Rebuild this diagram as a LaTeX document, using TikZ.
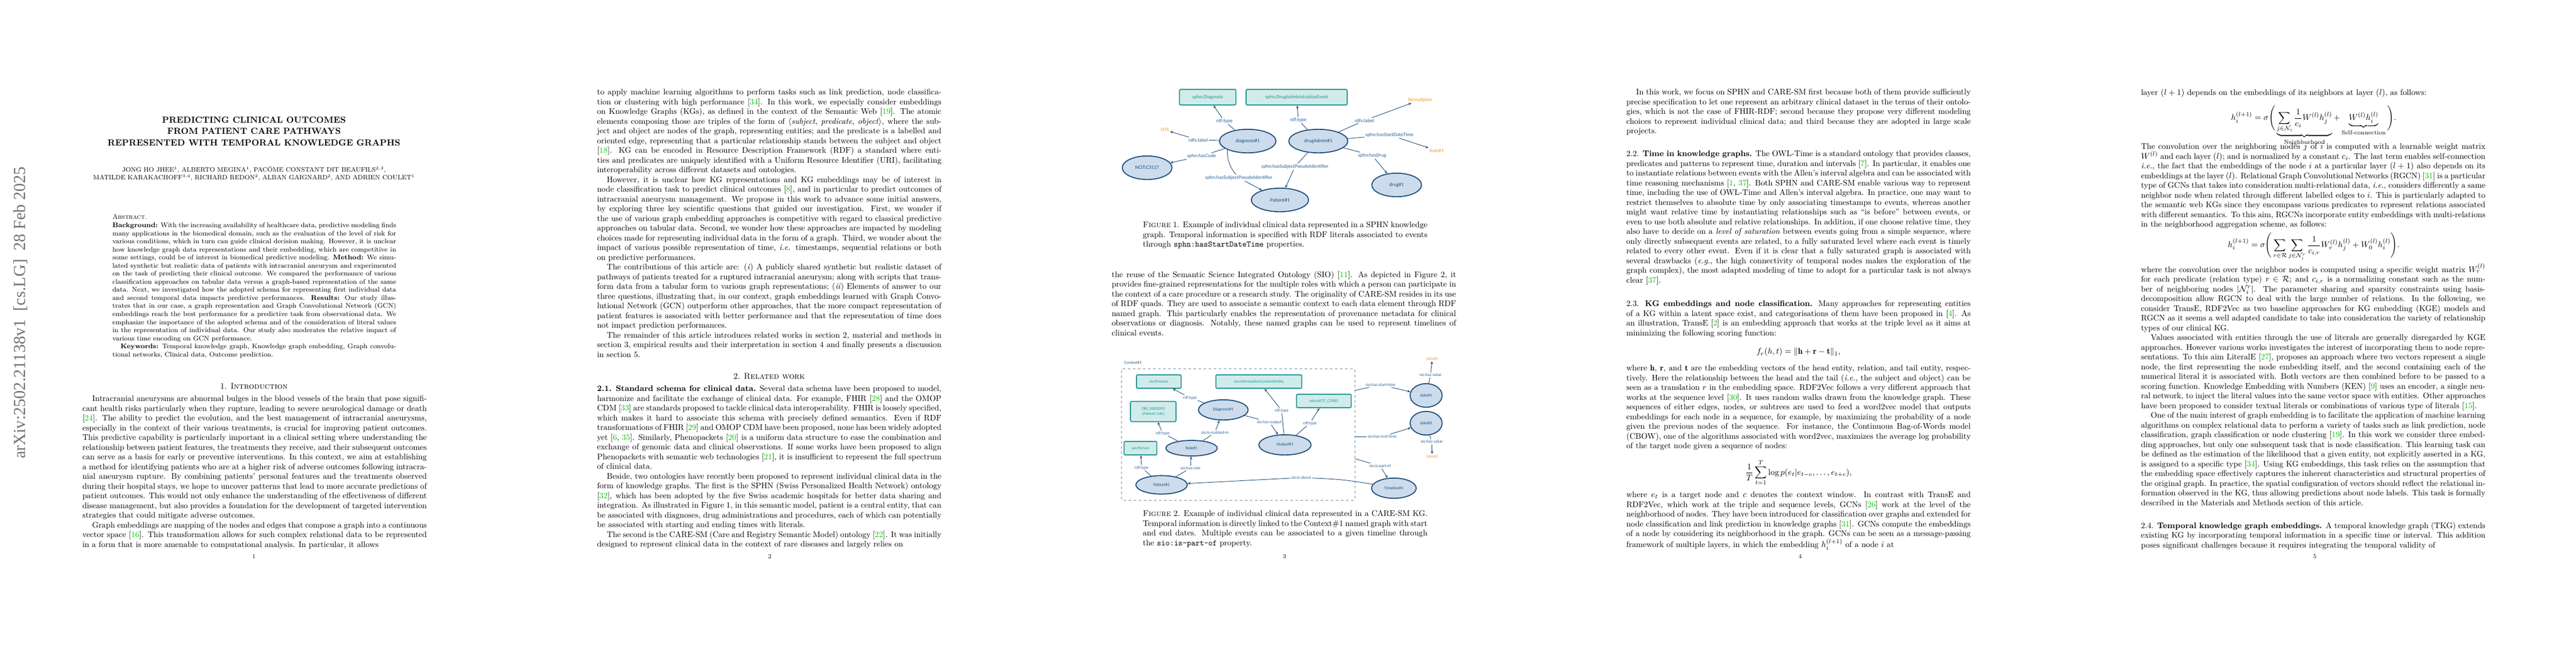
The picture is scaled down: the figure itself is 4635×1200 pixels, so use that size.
\documentclass[tikz,border=0pt]{standalone}
\usepackage{amsmath,amssymb}
\usepackage{fontspec}
\newfontfamily\figfont{Carlito}
\newfontfamily\stampfont{Liberation Serif}
\usetikzlibrary{arrows.meta,shapes.geometric}
\definecolor{edgeblue}{RGB}{31,78,121}
\definecolor{labblue}{RGB}{46,100,160}
\definecolor{ellfill}{RGB}{204,220,236}
\definecolor{boxfill}{RGB}{208,236,234}
\definecolor{boxline}{RGB}{40,150,150}
\definecolor{litorange}{RGB}{240,160,40}
\definecolor{citegreen}{RGB}{0,200,0}
\newcommand\cit[1]{[\textcolor{citegreen}{#1}]}
\newcommand\pind{\par\hspace*{1.2em}}
\begin{document}
\begin{tikzpicture}[x=0.66pt,y=-0.66pt,
  body/.style={anchor=north west, inner sep=0, text width=409pt, align=justify, font=\fontsize{9.7}{11.55}\selectfont},
  capt/.style={anchor=north west, inner sep=0, text width=338pt, align=justify, font=\fontsize{9.7}{11.55}\selectfont},
  pnum/.style={font=\fontsize{7}{8}\selectfont},
  ent/.style={ellipse, draw=edgeblue, line width=1.2pt, fill=ellfill, text=edgeblue, font=\figfont\fontsize{6}{7}\selectfont, inner sep=0},
  cls/.style={rectangle, rounded corners=1.5pt, draw=boxline, line width=1.2pt, fill=boxfill, text=boxline, font=\figfont\fontsize{6}{7}\selectfont, inner sep=1pt, align=center},
  lit/.style={text=litorange, font=\figfont\fontsize{6}{7}\selectfont, inner sep=1pt},
  elab/.style={text=labblue, font=\figfont\fontsize{6}{7}\selectfont, inner sep=1pt},
  small/.style={font=\figfont\fontsize{5}{6}\selectfont},
  kedge/.style={draw=edgeblue, line width=0.6pt},
  karr/.style={kedge, -{Stealth[length=3.5pt,width=3pt]}}]
\useasboundingbox (0,0) rectangle (4635,1200);
\fill[white] (0,0) rectangle (4635,1200);

% stamp
\node[rotate=90, text=black!55, font=\stampfont\fontsize{20}{22}\selectfont] (stamp) at (37,563) {arXiv:2502.21138v1\ \ [cs.LG]\ \ 28 Feb 2025};

% ---------- page 1
\node[font=\bfseries\fontsize{10.5}{13.4}\selectfont, align=center, anchor=north] (title) at (457,205)
  {PREDICTING CLINICAL OUTCOMES\\FROM PATIENT CARE PATHWAYS\\REPRESENTED WITH TEMPORAL KNOWLEDGE GRAPHS};
\node[font=\fontsize{7.6}{9.4}\selectfont, align=center, anchor=north] (authors) at (457,294)
  {JONG HO JHEE$^1$, ALBERTO MEGINA$^1$, PACÔME CONSTANT DIT BEAUFILS$^{2,3}$,\\
   MATILDE KARAKACHOFF$^{3,4}$, RICHARD REDON$^2$, ALBAN GAIGNARD$^2$, AND ADRIEN COULET$^1$};
\node[anchor=north west, inner sep=0, text width=337pt, align=justify, font=\fontsize{8}{9.6}\selectfont] (abstract) at (202,386)
  {\textsc{Abstract.}\par
  \textbf{Background:} With the increasing availability of healthcare data, predictive modeling finds many applications in the biomedical domain, such as the evaluation of the level of risk for various conditions, which in turn can guide clinical decision making. However, it is unclear how knowledge graph data representations and their embedding, which are competitive in some settings, could be of interest in biomedical predictive modeling. \textbf{Method:} We simulated synthetic but realistic data of patients with intracranial aneurysm and experimented on the task of predicting their clinical outcome. We compared the performance of various classification approaches on tabular data versus a graph-based representation of the same data. Next, we investigated how the adopted schema for representing first individual data and second temporal data impacts predictive performances. \textbf{Results:} Our study illustrates that in our case, a graph representation and Graph Convolutional Network (GCN) embeddings reach the best performance for a predictive task from observational data. We emphasize the importance of the adopted schema and of the consideration of literal values in the representation of individual data. Our study also moderates the relative impact of various time encoding on GCN performance.
  \pind\textbf{Keywords:} Temporal knowledge graph, Knowledge graph embedding, Graph convolutional networks, Clinical data, Outcome prediction.};
\node[font=\fontsize{10}{12}\selectfont] (intro) at (457,695) {1. \textsc{Introduction}};
\node[body] (p1a) at (148,712)
  {\hspace*{1.2em}Intracranial aneurysms are abnormal bulges in the blood vessels of the brain that pose significant health risks particularly when they rupture, leading to severe neurological damage or death \cit{24}. The ability to predict the evolution, and the best management of intracranial aneurysms, especially in the context of their various treatments, is crucial for improving patient outcomes. This predictive capability is particularly important in a clinical setting where understanding the relationship between patient features, the treatments they receive, and their subsequent outcomes can serve as a basis for early or preventive interventions. In this context, we aim at establishing a method for identifying patients who are at a higher risk of adverse outcomes following intracranial aneurysm rupture. By combining patients' personal features and the treatments observed during their hospital stays, we hope to uncover patterns that lead to more accurate predictions of patient outcomes. This would not only enhance the understanding of the effectiveness of different disease management, but also provides a foundation for the development of targeted intervention strategies that could mitigate adverse outcomes.
  \pind Graph embeddings are mapping of the nodes and edges that compose a graph into a continuous vector space \cit{16}. This transformation allows for such complex relational data to be represented in a form that is more amenable to computational analysis. In particular, it allows};
\node[pnum] (n1) at (457,1002) {1};

% ---------- page 2
\node[body] (p2a) at (1074,160)
  {to apply machine learning algorithms to perform tasks such as link prediction, node classification or clustering with high performance \cit{34}. In this work, we especially consider embeddings on Knowledge Graphs (KGs), as defined in the context of the Semantic Web \cit{19}. The atomic elements composing those are triples of the form of $\langle$\textit{subject}, \textit{predicate}, \textit{object}$\rangle$, where the subject and object are nodes of the graph, representing entities; and the predicate is a labelled and oriented edge, representing that a particular relationship stands between the subject and object \cit{18}. KG can be encoded in Resource Description Framework (RDF) a standard where entities and predicates are uniquely identified with a Uniform Resource Identifier (URI), facilitating interoperability across different datasets and ontologies.
  \pind However, it is unclear how KG representations and KG embeddings may be of interest in node classification task to predict clinical outcomes \cit{8}, and in particular to predict outcomes of intracranial aneurysm management. We propose in this work to advance some initial answers, by exploring three key scientific questions that guided our investigation. First, we wonder if the use of various graph embedding approaches is competitive with regard to classical predictive approaches on tabular data. Second, we wonder how these approaches are impacted by modeling choices made for representing individual data in the form of a graph. Third, we wonder about the impact of various possible representation of time, \textit{i.e.} timestamps, sequential relations or both on predictive performances.
  \pind The contributions of this article are: (\textit{i}) A publicly shared synthetic but realistic dataset of pathways of patients treated for a ruptured intracranial aneurysm; along with scripts that transform data from a tabular form to various graph representations; (\textit{ii}) Elements of answer to our three questions, illustrating that, in our context, graph embeddings learned with Graph Convolutional Network (GCN) outperform other approaches, that the more compact representation of patient features is associated with better performance and that the representation of time does not impact prediction performances.
  \pind The remainder of this article introduces related works in section 2, material and methods in section 3, empirical results and their interpretation in section 4 and finally presents a discussion in section 5.};
\node[font=\fontsize{10}{12}\selectfont] (related) at (1384,677) {2. \textsc{Related work}};
\node[body] (p2b) at (1074,694)
  {\textbf{2.1. Standard schema for clinical data.} Several data schema have been proposed to model, harmonize and facilitate the exchange of clinical data. For example, FHIR \cit{28} and the OMOP CDM \cit{33} are standards proposed to tackle clinical data interoperability. FHIR is loosely specified, which makes it hard to associate this schema with precisely defined semantics. Even if RDF transformations of FHIR \cit{29} and OMOP CDM have been proposed, none has been widely adopted yet [\textcolor{citegreen}{6}, \textcolor{citegreen}{35}]. Similarly, Phenopackets \cit{20} is a uniform data structure to ease the combination and exchange of genomic data and clinical observations. If some works have been proposed to align Phenopackets with semantic web technologies \cit{21}, it is insufficient to represent the full spectrum of clinical data.
  \pind Beside, two ontologies have recently been proposed to represent individual clinical data in the form of knowledge graphs. The first is the SPHN (Swiss Personalized Health Network) ontology \cit{32}, which has been adopted by the five Swiss academic hospitals for better data sharing and integration. As illustrated in Figure 1, in this semantic model, patient is a central entity, that can be associated with diagnoses, drug administrations and procedures, each of which can potentially be associated with starting and ending times with literals.
  \pind The second is the CARE-SM (Care and Registry Semantic Model) ontology \cit{22}. It was initially designed to represent clinical data in the context of rare diseases and largely relies on};
\node[pnum] (n2) at (1385,1002) {2};

% ---------- page 3, figure 1 (SPHN)
\node[cls, minimum width=67pt, minimum height=18.5pt] (diagbox) at (2173,175) {sphn:Diagnosis};
\node[cls, minimum width=120pt, minimum height=18.5pt] (drugbox) at (2333,175) {sphn:DrugAdministrationEvent};
\node[ent, minimum width=67pt, minimum height=28pt] (diag) at (2245,254) {diagnosis\#1};
\node[ent, minimum width=59pt, minimum height=28pt] (ncit) at (2064,302) {NCIT:C3117};
\node[ent, minimum width=68pt, minimum height=28pt] (patient) at (2303,360) {Patient\#1};
\node[ent, minimum width=70pt, minimum height=28pt] (drugadm) at (2372,254) {drugAdmin\#1};
\node[ent, minimum width=59pt, minimum height=28pt] (drug) at (2513,333) {drug\#1};
\node[lit] (hta) at (2096,234) {HTA};
\node[lit] (nimo) at (2555,180) {Nimodipine};
\node[lit] (sdate) at (2585,271) {date\#1};
\node[elab] (t1) at (2203,218) {rdf:type};
\node[elab] (l1) at (2156,252) {rdfs:label};
\node[elab] (c1) at (2162,281) {sphn:hasCode};
\node[elab] (s1) at (2229,320) {sphn:hasSubjectPseudoIdentifier};
\node[elab] (t2) at (2336,216) {rdf:type};
\node[elab] (l2) at (2455,217) {rdfs:label};
\node[elab] (d2) at (2500,243) {sphn:hasStartDateTime};
\node[elab] (g2) at (2469,280) {sphn:hasDrug};
\node[elab] (s2) at (2330,300) {sphn:hasSubjectPseudoIdentifier};
\draw[kedge] (diag) -- (t1); \draw[karr] (t1) -- (diagbox);
\draw[kedge] (diag) -- (l1); \draw[karr] (l1) -- (hta);
\draw[kedge] (diag) -- (c1); \draw[karr] (c1) -- (ncit);
\draw[kedge] (diag.south west) to[bend right=20] (s1); \draw[karr] (s1) -- (patient);
\draw[kedge] (drugadm) -- (t2); \draw[karr] (t2) -- (drugbox);
\draw[kedge] (drugadm) -- (l2); \draw[karr] (l2) -- (nimo);
\draw[kedge] (drugadm) -- (d2); \draw[karr] (d2) -- (sdate);
\draw[kedge] (drugadm) -- (g2); \draw[karr] (g2) -- (drug);
\draw[kedge] (drugadm) -- (s2); \draw[karr] (s2) -- (patient);
\node[capt] (cap1) at (2056,399)
  {\textsc{Figure} 1. Example of individual clinical data represented in a SPHN knowledge graph. Temporal information is specified with RDF literals associated to events through \texttt{sphn:hasStartDateTime} properties.};

\node[body] (p3a) at (2000,488)
  {the reuse of the Semantic Science Integrated Ontology (SIO) \cit{11}. As depicted in Figure 2, it provides fine-grained representations for the multiple roles with which a person can participate in the context of a care procedure or a research study. The originality of CARE-SM resides in its use of RDF quads. They are used to associate a semantic context to each data element through RDF named graph. This particularly enables the representation of provenance metadata for clinical observations or diagnosis. Notably, these named graphs can be used to represent timelines of clinical events.};

% ---------- page 3, figure 2 (CARE-SM)
\node[elab, small, anchor=west] (ctx) at (2021,653) {Context\#1};
\draw[edgeblue, dashed, line width=0.6pt, rounded corners=2pt] (2018,664) rectangle (2438,901);
\coordinate (cstart) at (2438,703);
\coordinate (cend) at (2438,786);
\coordinate (cpart) at (2438,826);
\node[cls, small, minimum width=53pt, minimum height=16pt] (proc) at (2085,687) {sio:Process};
\node[cls, small, minimum width=102pt, minimum height=16pt] (ice) at (2265,687) {sio:InformationContentEntity};
\node[cls, small, minimum width=54pt, minimum height=24pt] (obi) at (2075,741) {OBI\_0000093\\(Patient role)};
\node[cls, small, minimum width=39pt, minimum height=16pt] (person) at (2052,807) {sio:Person};
\node[cls, small, minimum width=65pt, minimum height=16pt] (ncitc) at (2382,722) {obo:NCIT\_C2985};
\node[ent, small, minimum width=59pt, minimum height=24pt] (diag2) at (2201,738) {Diagnosis\#1};
\node[ent, small, minimum width=62pt, minimum height=24pt] (output) at (2312,801) {Output\#1};
\node[ent, small, minimum width=61pt, minimum height=18.5pt] (role) at (2144,807) {Role\#1};
\node[ent, small, minimum width=61pt, minimum height=22pt] (pat2) at (2090,873) {Patient\#1};
\node[ent, small, minimum width=38pt, minimum height=28pt] (date1) at (2566,712) {date\#1};
\node[ent, small, minimum width=38pt, minimum height=28pt] (date2) at (2566,762) {date\#2};
\node[ent, small, minimum width=53pt, minimum height=24pt] (tl) at (2508,879) {Timeline\#1};
\node[lit, small] (v1) at (2577,646) {date\#1};
\node[lit, small] (v2) at (2577,822) {date\#2};
\node[elab, small] (a1) at (2141,716) {rdf:type};
\node[elab, small] (a2) at (2306,739) {rdf:type};
\node[elab, small] (a3) at (2284,760) {sio:has-output};
\node[elab, small] (a4) at (2186,779) {sio:is-realized-in};
\node[elab, small] (a5) at (2092,780) {rdf:type};
\node[elab, small] (a6) at (2054,842) {rdf:type};
\node[elab, small] (a7) at (2142,843) {sio:has-role};
\node[elab, small] (a8) at (2357,762) {rdf:type};
\node[elab, small] (a9) at (2574,675) {sio:has-value};
\node[elab, small] (a10) at (2484,693) {sio:has-start-time};
\node[elab, small] (a11) at (2487,786) {sio:has-end-time};
\node[elab, small] (a12) at (2576,795) {sio:has-value};
\node[elab, small] (a13) at (2483,839) {sio:is-part-of};
\node[elab, small] (a14) at (2341,860) {sio:is-about};
\draw[kedge] (diag2) -- (a1); \draw[karr] (a1) -- (proc);
\draw[kedge] (output) -- (a2); \draw[karr] (a2) -- (ice);
\draw[kedge] (diag2) -- (a3); \draw[karr] (a3) -- (output);
\draw[kedge] (role) -- (a4); \draw[karr] (a4) -- (diag2);
\draw[kedge] (role) -- (a5); \draw[karr] (a5) -- (obi);
\draw[kedge] (pat2) -- (a6); \draw[karr] (a6) -- (person);
\draw[kedge] (pat2) -- (a7); \draw[karr] (a7) -- (role);
\draw[kedge] (output) -- (a8); \draw[karr] (a8) -- (ncitc);
\draw[kedge] (date1) -- (a9); \draw[karr] (a9) -- (v1);
\draw[kedge] (cstart) -- (a10); \draw[karr] (a10) -- (date1);
\draw[kedge] (cend) -- (a11); \draw[karr] (a11) -- (date2);
\draw[kedge] (date2) -- (a12); \draw[karr] (a12) -- (v2);
\draw[kedge] (cpart) -- (a13); \draw[karr] (a13) -- (tl);
\draw[kedge] (tl) to[bend right=4] (a14); \draw[karr] (a14) -- (pat2);
\node[capt] (cap2) at (2056,919)
  {\textsc{Figure} 2. Example of individual clinical data represented in a CARE-SM KG. Temporal information is directly linked to the Context\#1 named graph with start and end dates. Multiple events can be associated to a given timeline through the \texttt{sio:is-part-of} property.};
\node[pnum] (n3) at (2311,1002) {3};

% ---------- page 4
\node[body] (p4a) at (2926,160)
  {\hspace*{1.2em}In this work, we focus on SPHN and CARE-SM first because both of them provide sufficiently precise specification to let one represent an arbitrary clinical dataset in the terms of their ontologies, which is not the case of FHIR-RDF; second because they propose very different modeling choices to represent individual clinical data; and third because they are adopted in large scale projects.};
\node[body] (p4b) at (2926,271)
  {2.2. \textbf{Time in knowledge graphs.} The OWL-Time is a standard ontology that provides classes, predicates and patterns to represent time, duration and intervals \cit{7}. In particular, it enables one to instantiate relations between events with the Allen's interval algebra and can be associated with time reasoning mechanisms [\textcolor{citegreen}{1}, \textcolor{citegreen}{37}]. Both SPHN and CARE-SM enable various way to represent time, including the use of OWL-Time and Allen's interval algebra. In practice, one may want to restrict themselves to absolute time by only associating timestamps to events, whereas another might want relative time by instantiating relationships such as ``is before'' between events, or even to use both absolute and relative relationships. In addition, if one choose relative time, they also have to decide on a \textit{level of saturation} between events going from a simple sequence, where only directly subsequent events are related, to a fully saturated level where each event is timely related to every other event. Even if it is clear that a fully saturated graph is associated with several drawbacks (\textit{e.g.}, the high connectivity of temporal nodes makes the exploration of the graph complex), the most adapted modeling of time to adopt for a particular task is not always clear \cit{37}.};
\node[body] (p4c) at (2926,541)
  {2.3. \textbf{KG embeddings and node classification.} Many approaches for representing entities of a KG within a latent space exist, and categorisations of them have been proposed in \cit{4}. As an illustration, TransE \cit{2} is an embedding approach that works at the triple level as it aims at minimizing the following scoring function:};
\node[font=\fontsize{10}{12}\selectfont] (eq1) at (3236,634) {$f_r(h,t)=\|\mathbf{h}+\mathbf{r}-\mathbf{t}\|_1,$};
\node[body] (p4d) at (2926,657)
  {where $\mathbf{h}$, $\mathbf{r}$, and $\mathbf{t}$ are the embedding vectors of the head entity, relation, and tail entity, respectively. Here the relationship between the head and the tail (\textit{i.e.}, the subject and object) can be seen as a translation $r$ in the embedding space. RDF2Vec follows a very different approach that works at the sequence level \cit{30}. It uses random walks drawn from the knowledge graph. These sequences of either edges, nodes, or subtrees are used to feed a word2vec model that outputs embeddings for each node in a sequence, for example, by maximizing the probability of a node given the previous nodes of the sequence. For instance, the Continuous Bag-of-Words model (CBOW), one of the algorithms associated with word2vec, maximizes the average log probability of the target node given a sequence of nodes:};
\node[font=\fontsize{10}{12}\selectfont] (eq2) at (3236,851) {$\displaystyle\frac{1}{T}\sum_{t=1}^{T}\log p(e_t|e_{t-c},\dots,e_{t+c}),$};
\node[body] (p4e) at (2926,885)
  {where $e_t$ is a target node and $c$ denotes the context window. In contrast with TransE and RDF2Vec, which work at the triple and sequence levels, GCNs \cit{26} work at the level of the neighborhood of nodes. They have been introduced for classification over graphs and extended for node classification and link prediction in knowledge graphs \cit{31}. GCNs compute the embeddings of a node by considering its neighborhood in the graph. GCNs can be seen as a message-passing framework of multiple layers, in which the embedding $h_i^{(l+1)}$ of a node $i$ at};
\node[pnum] (n4) at (3239,1002) {4};

% ---------- page 5
\node[body] (p5a) at (3852,160)
  {layer $(l+1)$ depends on the embeddings of its neighbors at layer $(l)$, as follows:};
\node[font=\fontsize{10}{12}\selectfont, anchor=north] (eq3) at (4163,185)
  {$\displaystyle h_i^{(l+1)}=\sigma\Bigg(\underbrace{\sum_{j\in\mathcal{N}_i}\frac{1}{c_i}W^{(l)}h_j^{(l)}}_{\text{Neighborhood}}+\underbrace{W^{(l)}h_i^{(l)}}_{\text{Self-connection}}\Bigg).$};
\node[body] (p5b) at (3852,258)
  {The convolution over the neighboring nodes $j$ of $i$ is computed with a learnable weight matrix $W^{(l)}$ and each layer $(l)$; and is normalized by a constant $c_i$. The last term enables self-connection \textit{i.e.}, the fact that the embeddings of the node $i$ at a particular layer $(l+1)$ also depends on its embeddings at the layer $(l)$. Relational Graph Convolutional Networks (RGCN) \cit{31} is a particular type of GCNs that takes into consideration multi-relational data, \textit{i.e.}, considers differently a same neighbor node when related through different labelled edges to $i$. This is particularly adapted to the semantic web KGs since they encompass various predicates to represent relations associated with different semantics. To this aim, RGCNs incorporate entity embeddings with multi-relations in the neighborhood aggregation scheme, as follows:};
\node[font=\fontsize{10}{12}\selectfont] (eq4) at (4163,444)
  {$\displaystyle h_i^{(l+1)}=\sigma\Bigg(\sum_{r\in\mathcal{R}}\sum_{j\in\mathcal{N}_i^r}\frac{1}{c_{i,r}}W_r^{(l)}h_j^{(l)}+W_0^{(l)}h_i^{(l)}\Bigg).$};
\node[body] (p5c) at (3852,474)
  {where the convolution over the neighbor nodes is computed using a specific weight matrix $W_r^{(l)}$ for each predicate (relation type) $r\in\mathcal{R}$; and $c_{i,r}$ is a normalizing constant such as the number of neighboring nodes $|\mathcal{N}_i^r|$. The parameter sharing and sparsity constraints using basis-decomposition allow RGCN to deal with the large number of relations. In the following, we consider TransE, RDF2Vec as two baseline approaches for KG embedding (KGE) models and RGCN as it seems a well adapted candidate to take into consideration the variety of relationship types of our clinical KG.
  \pind Values associated with entities through the use of literals are generally disregarded by KGE approaches. However various works investigates the interest of incorporating them to node representations. To this aim LiteralE \cit{27}, proposes an approach where two vectors represent a single node, the first representing the node embedding itself, and the second containing each of the numerical literal it is associated with. Both vectors are then combined before to be passed to a scoring function. Knowledge Embedding with Numbers (KEN) \cit{9} uses an encoder, a single neural network, to inject the literal values into the same vector space with entities. Other approaches have been proposed to consider textual literals or combinations of various type of literals \cit{15}.
  \pind One of the main interest of graph embedding is to facilitate the application of machine learning algorithms on complex relational data to perform a variety of tasks such as link prediction, node classification, graph classification or node clustering \cit{19}. In this work we consider three embedding approaches, but only one subsequent task that is node classification. This learning task can be defined as the estimation of the likelihood that a given entity, not explicitly asserted in a KG, is assigned to a specific type \cit{34}. Using KG embeddings, this task relies on the assumption that the embedding space effectively captures the inherent characteristics and structural properties of the original graph. In practice, the spatial configuration of vectors should reflect the relational information observed in the KG, thus allowing predictions about node labels. This task is formally described in the Materials and Methods section of this article.};
\node[body] (p5d) at (3852,940)
  {2.4. \textbf{Temporal knowledge graph embeddings.} A temporal knowledge graph (TKG) extends existing KG by incorporating temporal information in a specific time or interval. This addition poses significant challenges because it requires integrating the temporal validity of};
\node[pnum] (n5) at (4165,1002) {5};
\end{tikzpicture}
\end{document}
